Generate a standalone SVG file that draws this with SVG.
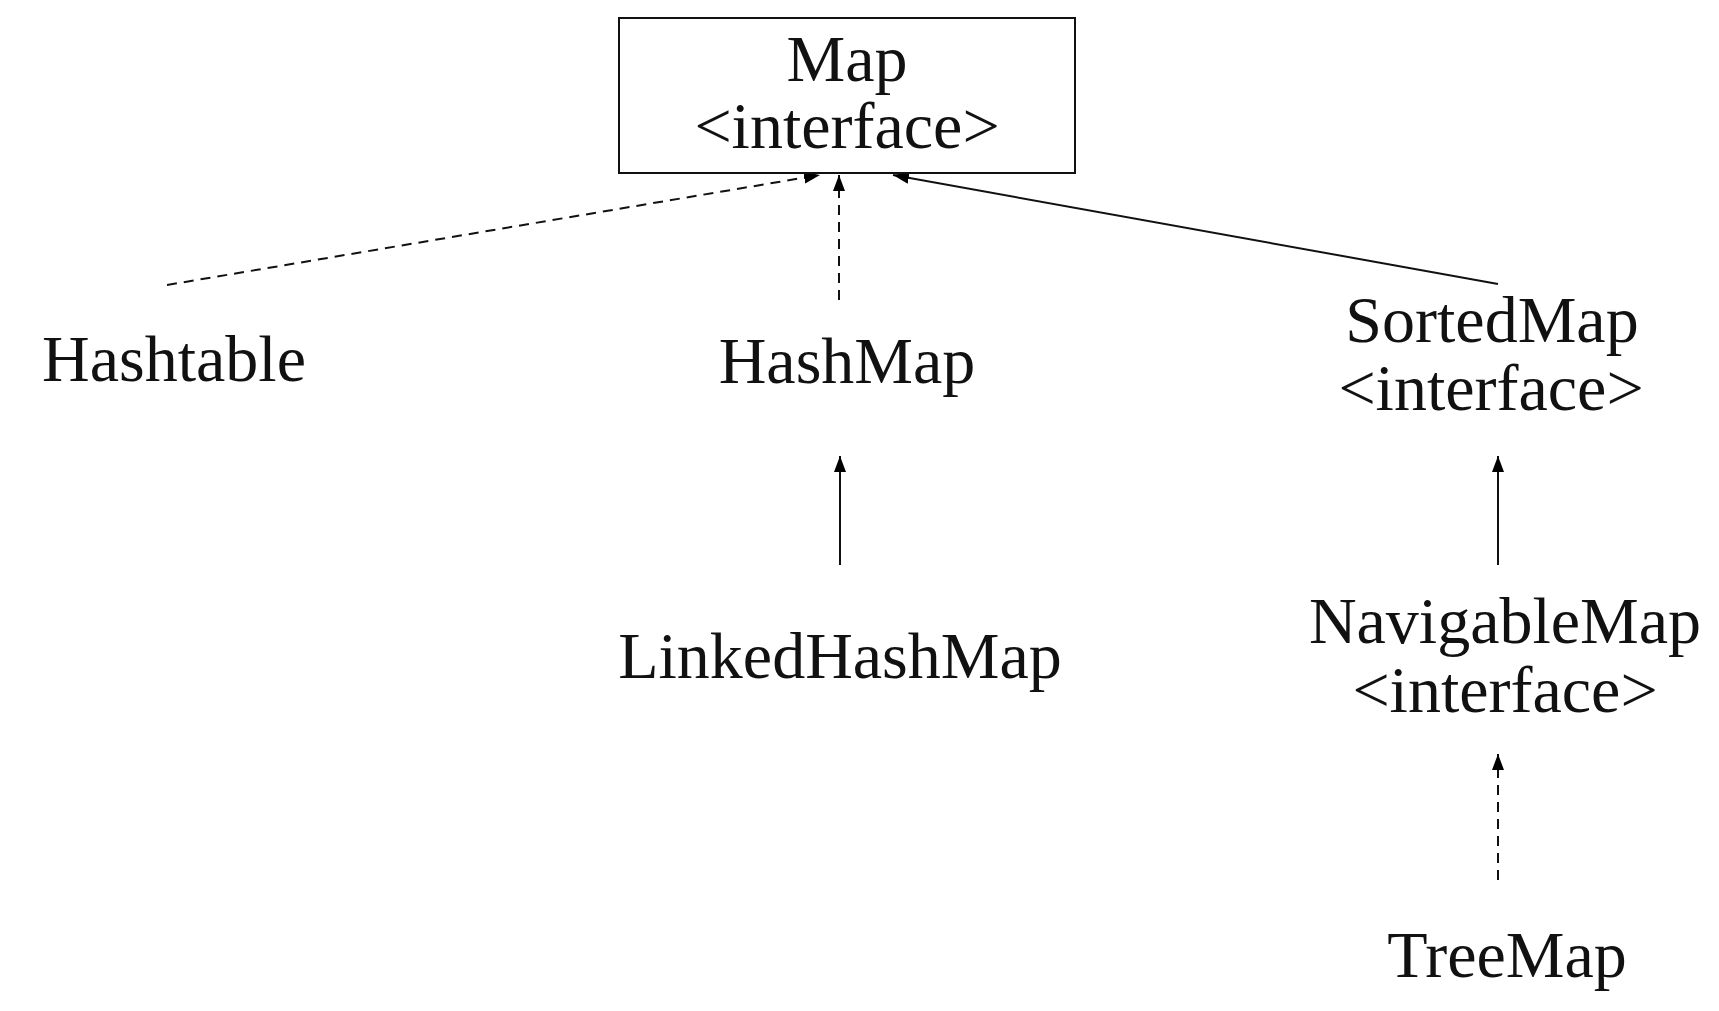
<svg xmlns="http://www.w3.org/2000/svg" width="1719" height="1011" viewBox="0 0 1719 1011">
<defs>
<marker id="ah" viewBox="0 0 16 12" refX="16" refY="6" markerWidth="16" markerHeight="12" markerUnits="userSpaceOnUse" orient="auto">
<path d="M0,0 L16,6 L0,12 Z" fill="#000"/>
</marker>
<style>
.t{font-family:"Liberation Serif","Times New Roman",serif;font-size:66px;fill:#111;text-anchor:middle}
.c{stroke:#111;stroke-width:2;fill:none;marker-end:url(#ah)}
.d{stroke-dasharray:10,7}
.box{fill:#fff;stroke:#111;stroke-width:2}
</style>
</defs>
<rect width="1719" height="1011" fill="#fff"/>
<g id="connectors">
<line class="c d" x1="167" y1="285" x2="820" y2="175"/>
<line class="c d" x1="839" y1="300" x2="839" y2="175"/>
<line class="c" x1="1498" y1="284" x2="893" y2="175"/>
<line class="c" x1="840" y1="565" x2="840" y2="456"/>
<line class="c" x1="1498" y1="565" x2="1498" y2="456"/>
<line class="c d" x1="1498" y1="880" x2="1498" y2="754"/>
</g>
<g id="map">
<rect class="box" x="619" y="18" width="456" height="155"/>
<text class="t" x="847" y="81">Map</text>
<text class="t" x="847" y="148">&lt;interface&gt;</text>
</g>
<g id="hashtable"><text class="t" x="174" y="381">Hashtable</text></g>
<g id="hashmap"><text class="t" x="847" y="383">HashMap</text></g>
<g id="sortedmap">
<text class="t" x="1492" y="342">SortedMap</text>
<text class="t" x="1491" y="410">&lt;interface&gt;</text>
</g>
<g id="linkedhashmap"><text class="t" x="840" y="678">LinkedHashMap</text></g>
<g id="navigablemap">
<text class="t" x="1505" y="643">NavigableMap</text>
<text class="t" x="1505" y="712">&lt;interface&gt;</text>
</g>
<g id="treemap"><text class="t" x="1507" y="977">TreeMap</text></g>
</svg>
